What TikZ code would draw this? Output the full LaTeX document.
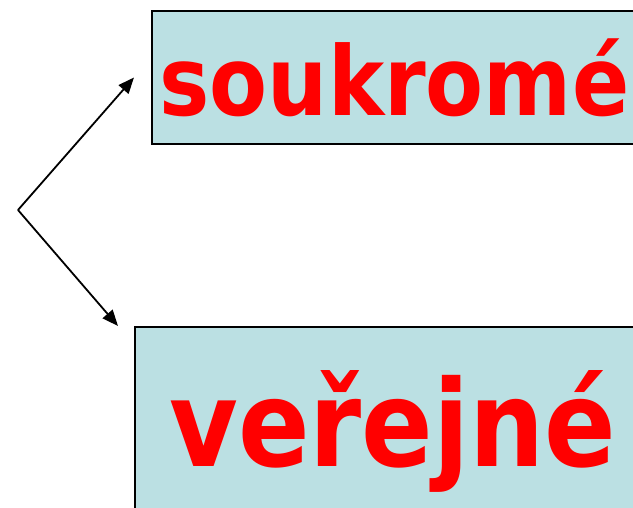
\documentclass[tikz,border=0pt]{standalone}
\usepackage{fontspec}
\usetikzlibrary{arrows.meta}
\newfontfamily\boxfont[FakeStretch=0.88]{DejaVu Sans}
\definecolor{boxblue}{RGB}{187,224,227}
\tikzset{
	% light blue boxes with big red words
	word box/.style={rectangle,draw=black,line width=2pt,fill=boxblue,
		text=red,inner sep=0pt,font=\boxfont\bfseries},
	fork arrow/.style={line width=1.8pt,-{Triangle[length=16pt,width=13pt]}}
}
\begin{document}
\begin{tikzpicture}[x=1pt,y=-1pt]
\useasboundingbox (0,0) rectangle (633,508);
\clip (0,0) rectangle (633,508);

% the two boxes
\node[word box, anchor=north west, minimum width=485pt,
      text height=105pt, text depth=28pt] (soukr) at (151,10)
      {\fontsize{96pt}{96pt}\selectfont soukromé};
\node[word box, anchor=north west, minimum width=516pt,
      text height=139pt, text depth=55pt] (verej) at (134,326)
      {\fontsize{120pt}{120pt}\selectfont veřejné};

% fork on the left
\coordinate (fork) at (18,210);
\path[fork arrow] (fork) edge ([xshift=-17pt]soukr.west)
                  (fork) edge ([xshift=-16pt]verej.north west);

\end{tikzpicture}
\end{document}
